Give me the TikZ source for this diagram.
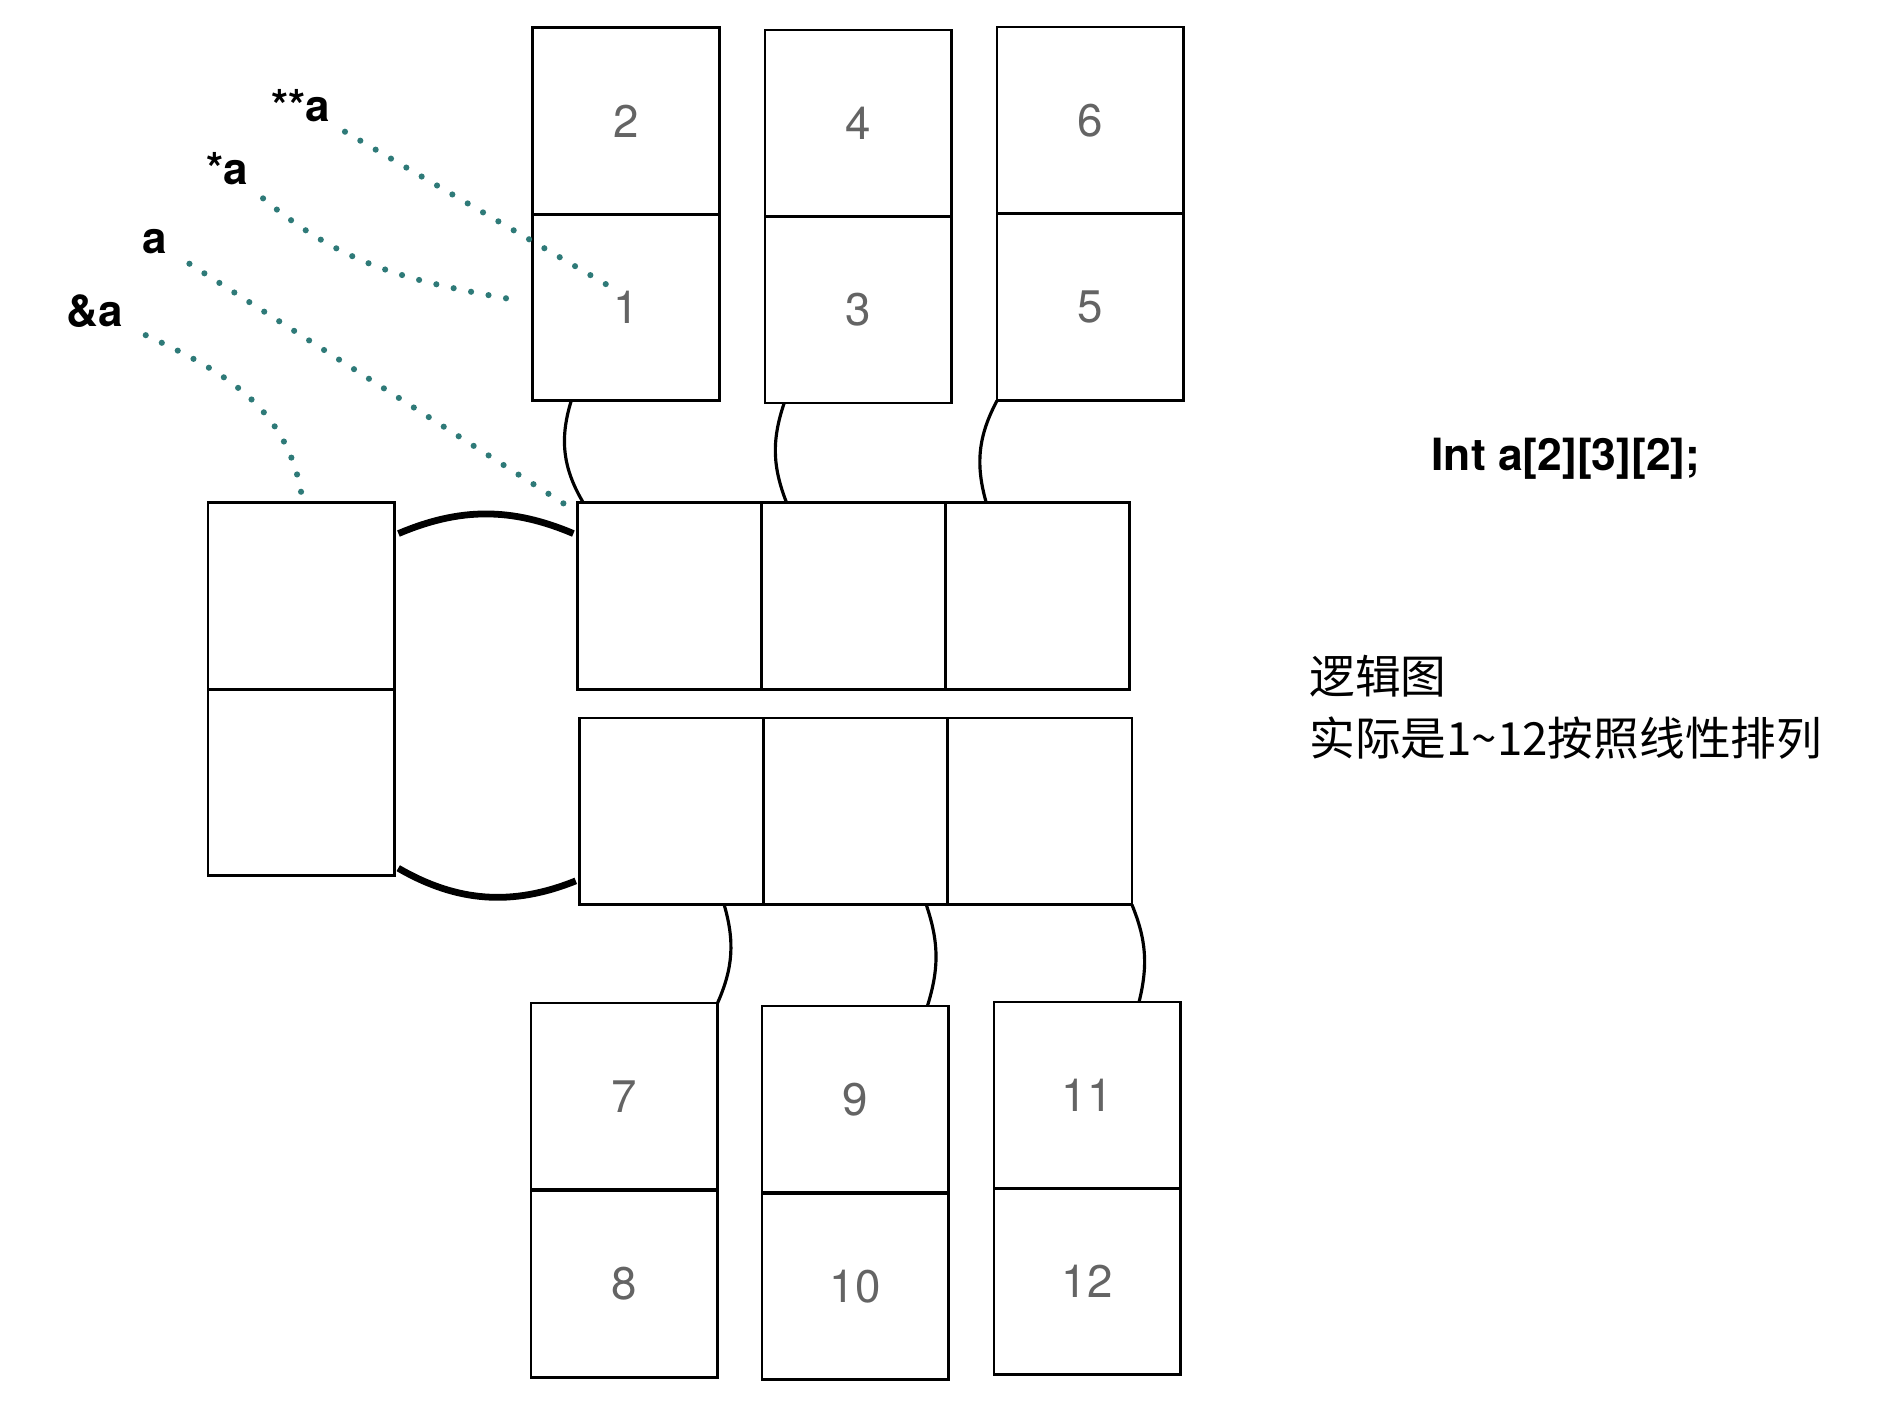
\documentclass[tikz,border=0pt]{standalone}
\usepackage{fontspec}
\setmainfont{TeX Gyre Heros}
\newfontfamily\cjk{Noto Sans CJK SC}
\usepackage{tikz}
\usetikzlibrary{positioning}
\definecolor{ptrteal}{RGB}{46,122,120}
\definecolor{numgray}{RGB}{100,100,100}

\tikzset{
 cell/.style={draw,line width=0.65pt,minimum width=1.55cm,minimum height=1.55cm,
  inner sep=0pt,outer sep=0pt,text=numgray,font=\fontsize{10.8}{12}\selectfont},
 rowcell/.style={cell,minimum width=1.53cm},
 ptr/.style={ptrteal,line width=1.45pt,line cap=round,dash pattern=on 0pt off 4.2pt},
 link/.style={line width=0.75pt},
 rough/.style={line width=1.6pt},
 lbl/.style={font=\fontsize{10.4}{12}\selectfont\bfseries}
}

\begin{document}
\begin{tikzpicture}[x=0.01cm,y=-0.01cm]
 \useasboundingbox (0,0) rectangle (1568,1166);
 % upper blocks
 \node[cell] (c2) at (520.5,100.5) {2};
 \node[cell] (c1) at (520.5,255.5) {1};
 \node[cell] (c4) at (713.5,102.5) {4};
 \node[cell] (c3) at (713.5,257.5) {3};
 \node[cell] (c6) at (906.5,100) {6};
 \node[cell] (c5) at (906.5,255.5) {5};
 % middle rows
 \node[rowcell] (m1) at (556.5,495.5) {};
 \node[rowcell] (m2) at (709.5,495.5) {};
 \node[rowcell] (m3) at (862.5,495.5) {};
 \node[rowcell] (m4) at (558.5,674.5) {};
 \node[rowcell] (m5) at (711.5,674.5) {};
 \node[rowcell] (m6) at (864.5,674.5) {};
 % left block
 \node[cell] (l1) at (250.5,495.5) {};
 \node[cell] (l2) at (250.5,650.5) {};
 % lower blocks
 \node[cell] (c7) at (519,911.5) {7};
 \node[cell] (c8) at (519,1067.5) {8};
 \node[cell] (c9) at (711,914) {9};
 \node[cell] (c10) at (711,1069.5) {10};
 \node[cell] (c11) at (904,910.5) {11};
 \node[cell] (c12) at (904,1065.5) {12};

 % links
 \draw[link] ([xshift=0.32cm]c1.south west) to[bend right=24] ([xshift=0.05cm]m1.north west);
 \draw[link] ([xshift=0.16cm]c3.south west) to[bend right=20] ([xshift=0.21cm]m2.north west);
 \draw[link] (c5.south west) to[bend right=22] ([xshift=0.34cm]m3.north west);
 \draw[link] ([xshift=1.2cm]m4.south west) to[bend left=20] (c7.north east);
 \draw[link] ([xshift=1.35cm]m5.south west) to[bend left=18] ([xshift=-0.175cm]c9.north east);
 \draw[link] (m6.south east) to[bend left=18] ([xshift=-0.345cm]c11.north east);
 \draw[rough,shorten <=1pt,shorten >=1pt] ([yshift=-0.27cm]l1.north east) to[bend left=23] ([yshift=-0.27cm]m1.north west);
 \draw[rough,shorten <=1pt,shorten >=1pt] ([yshift=0.08cm]l2.south east) to[bend right=26] ([yshift=0.21cm]m4.south west);

 % pointers
 \node[lbl] (lblpp) at (250,88) {**a};
 \node[lbl] (lblp) at (189,140) {*a};
 \node[lbl] (lbla) at (129,201) {a};
 \node[lbl] (lblr) at (79,259) {\&a};
 \coordinate (ppend) at (505,237);
 \coordinate (pend) at (432,250);
 \draw[ptr] (lblpp) -- (ppend);
 \draw[ptr] (lblp) to[out=-40,in=170] (pend);
 \draw[ptr,shorten <=2pt] (lbla) -- ([xshift=-0.03cm,yshift=-0.06cm]m1.north west);
 \draw[ptr,shorten <=2pt] (lblr) to[out=-25,in=100] ([yshift=0.08cm]l1.north);

 \node[lbl,font=\fontsize{10.5}{12}\selectfont\bfseries] (decl) at (1302,381) {Int a[2][3][2];};
 \node[anchor=north west,align=left,inner sep=0pt,font=\cjk\fontsize{10.8}{14.6}\selectfont] (note)
  at (1088,544) {逻辑图\\实际是1\textasciitilde 12按照线性排列};
\end{tikzpicture}
\end{document}
